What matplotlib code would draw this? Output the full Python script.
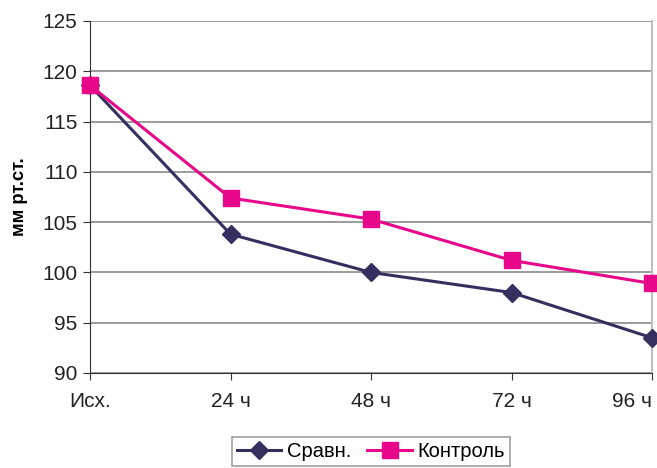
import matplotlib
matplotlib.use("Agg")
import matplotlib.pyplot as plt

categories = ["Исх.", "24 ч", "48 ч", "72 ч", "96 ч"]
sravn = [118.6, 103.8, 100.0, 98.0, 93.5]
kontrol = [118.6, 107.4, 105.3, 101.2, 98.9]
yticks = [90, 95, 100, 105, 110, 115, 120, 125]

plt.rcParams['font.family'] = ['Liberation Sans', 'DejaVu Sans']

fig = plt.figure(figsize=(6.57, 4.68), dpi=100)
ax = fig.add_axes([90/657, 95/468, 562/657, 352/468])

x = list(range(len(categories)))
ax.plot(x, sravn, color='#33305f', lw=2.2, marker='D', ms=9, label='Сравн.', zorder=3, clip_on=False)
ax.plot(x, kontrol, color='#e8068a', lw=2.2, marker='s', ms=11, label='Контроль', zorder=4, clip_on=False)

ax.set_xlim(0, len(categories) - 1)
ax.set_ylim(90, 125)
ax.set_yticks(yticks)
ax.set_xticks(x)
ax.set_xticklabels(categories)
ax.grid(axis='y', color='#8a8a8a', lw=1.2)
ax.set_axisbelow(True)
ax.spines['top'].set_visible(False)
ax.spines['right'].set_color('#c0c0c0')
ax.spines['right'].set_linewidth(1.5)
ax.spines['left'].set_color('#333333')
ax.spines['bottom'].set_color('#333333')
ax.tick_params(axis='both', labelsize=15, colors='#333333', direction='out', length=5)
ax.tick_params(axis='x', pad=9)
ax.tick_params(axis='y', pad=4)
for lbl in ax.get_xticklabels() + ax.get_yticklabels():
    lbl.set_color('#222222')
ax.get_xticklabels()[-1].set_horizontalalignment('right')
ax.set_ylabel('мм рт.ст.', fontsize=13.3, fontweight='bold', labelpad=10)

leg = fig.legend(loc='upper center', bbox_to_anchor=(371/657, 1 - 437/468), ncol=2,
                 fontsize=14.5, frameon=True, fancybox=False, edgecolor='#888888',
                 handlelength=2.2, handletextpad=0.3, columnspacing=0.8, borderpad=0.25,
                 borderaxespad=0)
leg.get_frame().set_linewidth(1.2)

fig.savefig('out.png', dpi=100)
